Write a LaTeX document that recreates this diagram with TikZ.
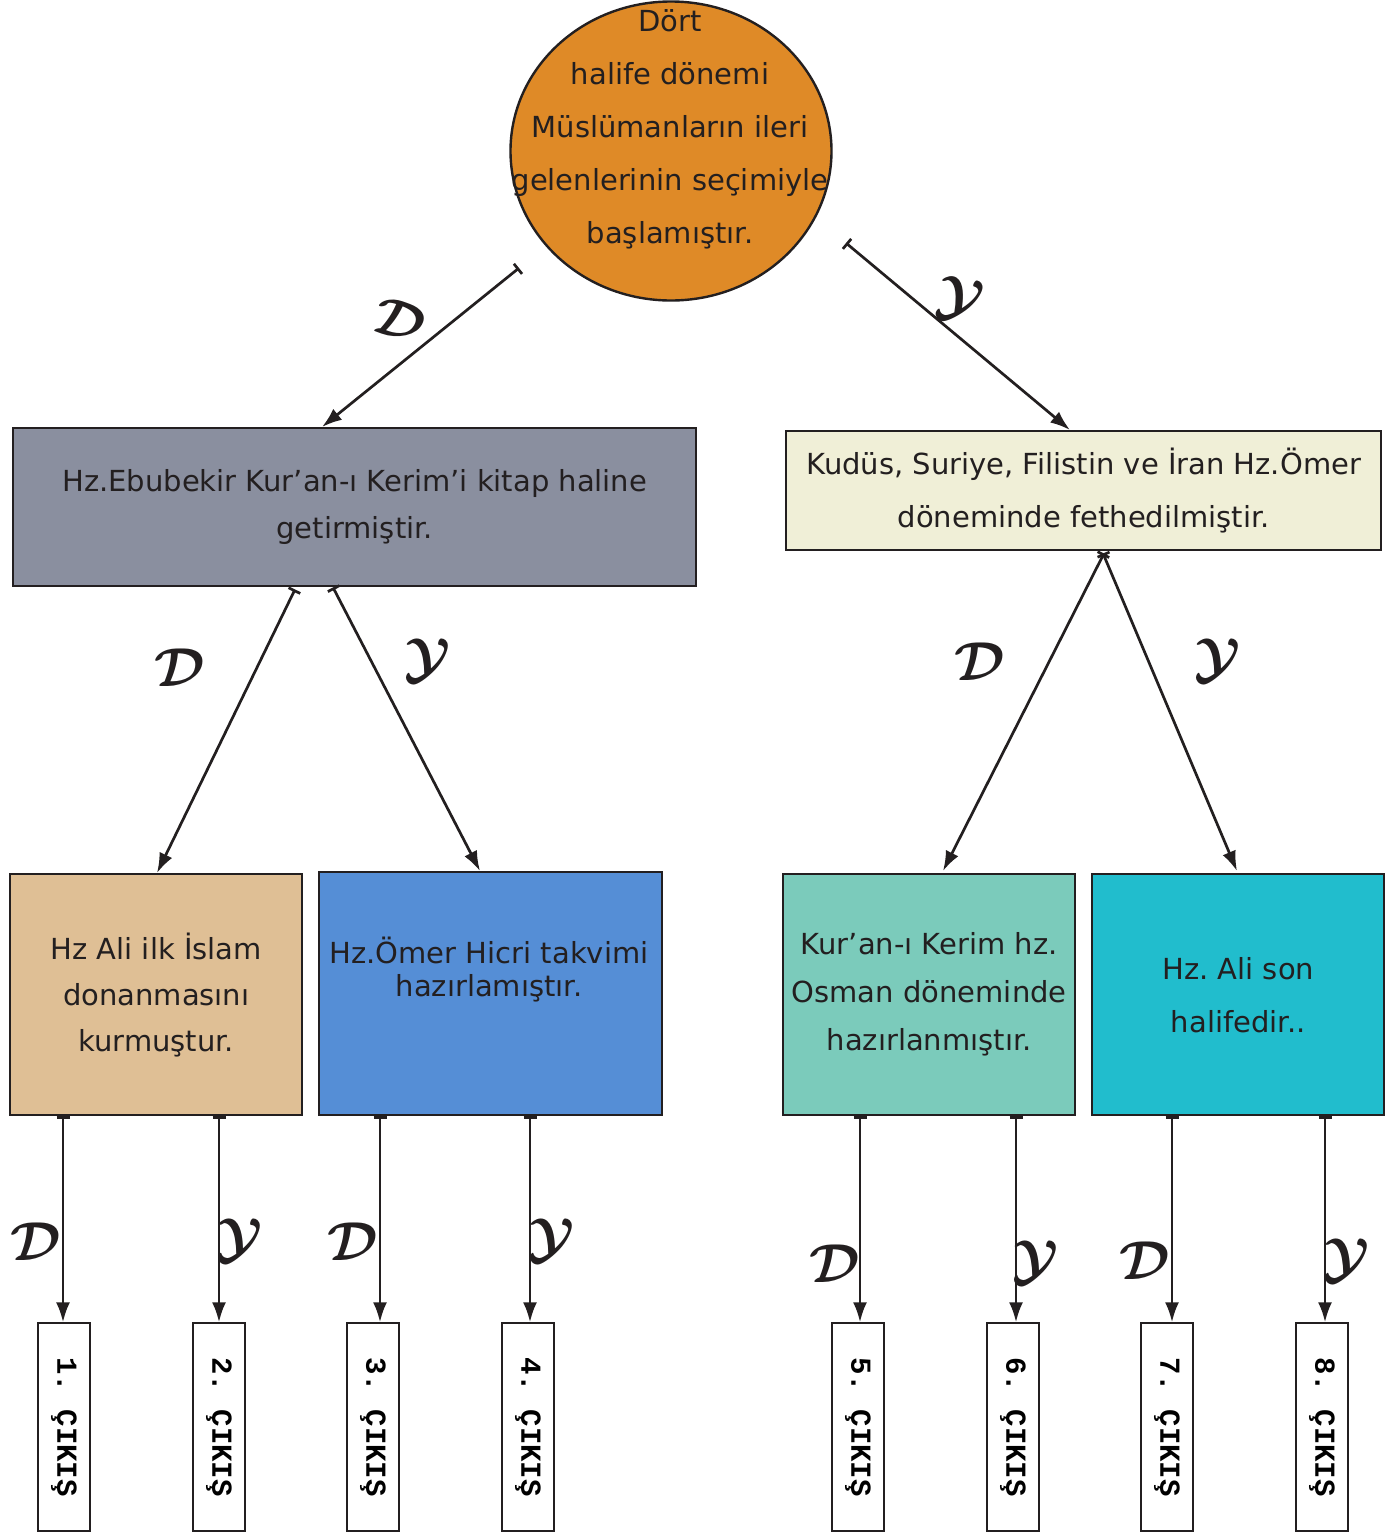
\documentclass[tikz,border=0pt]{standalone}
\usepackage{fontspec}
\setmainfont{DejaVu Sans}
\setmonofont{Liberation Mono}
\usetikzlibrary{arrows.meta,shapes.geometric,calc}
\definecolor{corange}{HTML}{DF8A27}
\definecolor{cgray}{HTML}{8A8F9F}
\definecolor{ccream}{HTML}{F0EFD7}
\definecolor{ctan}{HTML}{DFBF95}
\definecolor{cblue}{HTML}{558ED6}
\definecolor{cteal}{HTML}{7BCBBB}
\definecolor{ccyan}{HTML}{21BDCD}
\definecolor{cline}{HTML}{231F20}
\newcommand{\letD}{\ensuremath{\mathcal{D}}}
\newcommand{\letY}{\ensuremath{\mathcal{Y}}}
\begin{document}
\boldmath\frenchspacing
\begin{tikzpicture}[x=1pt,y=-1pt,
  boxst/.style={draw=cline, line width=2.4pt, inner sep=0pt, align=center, anchor=north west},
  txt/.style={align=center, font=\fontsize{29}{#1}\selectfont, text=cline},
  txt/.default=50,
  exitbox/.style={draw=cline, line width=1.4pt, fill=white, rotate=-90, minimum width=208pt, minimum height=52pt, inner sep=0pt, font=\ttfamily\bfseries\fontsize{29}{29}\selectfont},
  arr/.style={draw=cline, line width=2.7pt, {Bar[width=13pt]}-{Latex[length=20pt,width=14pt]}},
  lbl/.style={scale=3.8, transform shape, font=\fontsize{14.4}{14.4}\selectfont, text=cline}]
\useasboundingbox (0,0) rectangle (1397,1532);
\fill[white] (0,0) rectangle (1397,1532);
\node[ellipse, draw=cline, line width=2.4pt, fill=corange, minimum width=321pt, minimum height=299pt, inner sep=0pt] (c) at (671,151) {};
\node[txt=53] (ct) at (670,129) {Dört\\halife dönemi\\Müslümanların ileri\\gelenlerinin seçimiyle\\başlamıştır.};
\node[boxst, fill=cgray, minimum width=683pt, minimum height=158pt, txt=47] (b1) at (12,427) {Hz.Ebubekir Kur'an-ı Kerim'i kitap haline\\getirmiştir.};
\node[boxst, fill=ccream, minimum width=595pt, minimum height=119pt, txt=53] (b2) at (785,430) {Kudüs, Suriye, Filistin ve İran Hz.Ömer\\döneminde fethedilmiştir.};
\node[boxst, fill=ctan, minimum width=292pt, minimum height=241pt, txt=46] (b3) at (9,873) {Hz Ali ilk İslam\\donanmasını\\kurmuştur.};
\node[boxst, fill=cblue, minimum width=343pt, minimum height=243pt] (b4) at (318,871) {};
\node[txt=33] (b4t) at (489,970) {Hz.Ömer Hicri takvimi\\hazırlamıştır.};
\node[boxst, fill=cteal, minimum width=292pt, minimum height=241pt, txt=48] (b5) at (782,873) {Kur'an-ı Kerim hz.\\Osman döneminde\\hazırlanmıştır.};
\node[boxst, fill=ccyan, minimum width=292pt, minimum height=241pt, txt=53] (b6) at (1091,873) {Hz. Ali son\\halifedir..};
\node[exitbox] (e1) at (64,1427) {1. ÇIKIŞ};
\node[exitbox] (e2) at (219,1427) {2. ÇIKIŞ};
\node[exitbox] (e3) at (373,1427) {3. ÇIKIŞ};
\node[exitbox] (e4) at (528,1427) {4. ÇIKIŞ};
\node[exitbox] (e5) at (858,1427) {5. ÇIKIŞ};
\node[exitbox] (e6) at (1013,1427) {6. ÇIKIŞ};
\node[exitbox] (e7) at (1167,1427) {7. ÇIKIŞ};
\node[exitbox] (e8) at (1322,1427) {8. ÇIKIŞ};
\draw[arr] ($(c.center)+(-152,117)$) -- ($(b1.north west)+(310,0)$);
\draw[arr] ($(c.center)+(175,92)$) -- ($(b2.north west)+(285,0)$);
\draw[arr] ($(b1.south west)+(283,2)$) -- ($(b3.north west)+(148,0)$);
\draw[arr] ($(b1.south west)+(321,0)$) -- ($(b4.north west)+(162,0)$);
\draw[arr] ($(b2.south west)+(319,2)$) -- ($(b5.north west)+(161,-2)$);
\draw[arr] ($(b2.south west)+(318,2)$) -- ($(b6.north west)+(146,-2)$);
\draw[arr] ($(b3.south west)+(54,0)$) coordinate (s1) -- (s1 |- e1.west);
\draw[arr] ($(b3.south west)+(210,0)$) coordinate (s2) -- (s2 |- e2.west);
\draw[arr] ($(b4.south west)+(62,0)$) coordinate (s3) -- (s3 |- e3.west);
\draw[arr] ($(b4.south west)+(212,0)$) coordinate (s4) -- (s4 |- e4.west);
\draw[arr] ($(b5.south west)+(78,0)$) coordinate (s5) -- (s5 |- e5.west);
\draw[arr] ($(b5.south west)+(234,0)$) coordinate (s6) -- (s6 |- e6.west);
\draw[arr] ($(b6.south west)+(81,0)$) coordinate (s7) -- (s7 |- e7.west);
\draw[arr] ($(b6.south west)+(234,0)$) coordinate (s8) -- (s8 |- e8.west);
\node[lbl, rotate=-20] (l1) at (400,320) {\letD};
\node[lbl, rotate=-10] (l2) at (960,300) {\letY};
\node[lbl] (l3) at (180,668) {\letD};
\node[lbl] (l4) at (428,660) {\letY};
\node[lbl] (l5) at (980,662) {\letD};
\node[lbl] (l6) at (1218,660) {\letY};
\node[lbl] (l7) at (36,1242) {\letD};
\node[lbl] (l8) at (240,1240) {\letY};
\node[lbl] (l9) at (353,1242) {\letD};
\node[lbl] (l10) at (552,1240) {\letY};
\node[lbl] (l11) at (835,1264) {\letD};
\node[lbl] (l12) at (1036,1262) {\letY};
\node[lbl] (l13) at (1145,1261) {\letD};
\node[lbl] (l14) at (1347,1260) {\letY};
\end{tikzpicture}
\end{document}
